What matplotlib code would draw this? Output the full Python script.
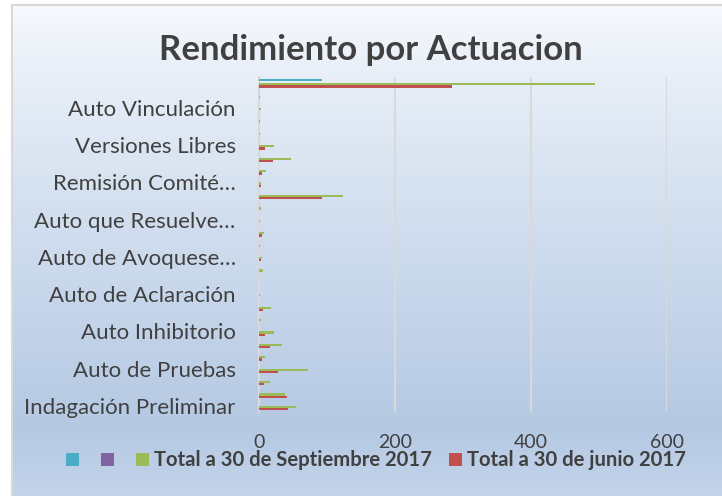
import numpy as np
import matplotlib
matplotlib.use("Agg")
import matplotlib.pyplot as plt
from matplotlib.colors import LinearSegmentedColormap
from matplotlib.patches import Patch

# ---------------- data ----------------
# 27 categories from bottom (0) to top (26); only every third one is labelled
category_index = list(range(27))
label_positions = [0, 3, 6, 9, 12, 15, 18, 21, 24]
category_labels = ["Indagación Preliminar", "Auto de Pruebas", "Auto Inhibitorio",
                   "Auto de Aclaración", "Auto de Avoquese…", "Auto que Resuelve…",
                   "Remisión Comité…", "Versiones Libres", "Auto Vinculación"]

series_labels = ["", "", "Total a 30 de Septiembre 2017", "Total a 30 de junio 2017"]

serie_azul = [0, 0, 0, 0, 0, 0, 0, 0, 0, 0, 0, 0, 0, 0, 0, 0, 0, 0, 0, 0, 0, 0, 0, 0, 0, 0, 92]
serie_morada = [0, 0, 0, 0, 0, 0, 0, 0, 0, 0, 0, 0, 0, 0, 0, 0, 0, 0, 0, 0, 0, 0, 0, 0, 0, 0, 0]
total_sep_2017 = [54, 38, 16, 72, 8, 34, 21, 2, 17, 1, 0, 5, 4, 1.5, 7, 1.5, 2, 124, 3, 10,
                  47, 22, 1, 1, 2.5, 1, 494]
total_jun_2017 = [42, 41, 7, 27, 3.5, 16, 9, 0, 5, 0, 0, 0, 2.5, 0, 3.5, 0, 0, 93, 3, 3.5,
                  20, 8, 0, 0, 0, 0, 284]

x_ticks = [0, 200, 400, 600]

# ---------------- style ----------------
plt.rcParams["font.family"] = ["Lato", "DejaVu Sans"]
colors = ["#4bacc6", "#8064a2", "#9bbb59", "#c0504d"]
text_color = "#404040"
grid_color = "#d9d9d9"

W, H = 722, 496
fig = plt.figure(figsize=(W / 100, H / 100), dpi=100)
fig.patch.set_facecolor("white")

# chart-area gradient background with border
bg = fig.add_axes([12 / W, 0, 1 - 12 / W, 1 - 5 / H], zorder=-5)
cmap = LinearSegmentedColormap.from_list(
    "bg", [(0.0, "#f6f9fd"), (0.15, "#e7eef7"), (0.5, "#cddbed"),
           (0.86, "#b5c9e3"), (1.0, "#c3d4ea")])
grad = np.linspace(0, 1, 256).reshape(-1, 1)
bg.imshow(grad, aspect="auto", cmap=cmap, extent=[0, 1, 1, 0])
bg.set_xlim(0, 1)
bg.set_ylim(1, 0)
bg.set_xticks([])
bg.set_yticks([])
for s in ["right", "bottom"]:
    bg.spines[s].set_visible(False)
for s in ["left", "top"]:
    bg.spines[s].set_color(grid_color)
    bg.spines[s].set_linewidth(1.5)

# plot area
x0, x1 = 259.3, 666.7
y0, y1 = 77, 412
ax = fig.add_axes([x0 / W, 1 - y1 / H, (x1 - x0) / W, (y1 - y0) / H])
ax.patch.set_alpha(0)

bar_h = 0.18
offsets = [0.27, 0.09, -0.09, -0.27]
all_series = [serie_azul, serie_morada, total_sep_2017, total_jun_2017]
pos = np.array(category_index, dtype=float)
for vals, off, col in zip(all_series, offsets, colors):
    ax.barh(pos + off, vals, height=bar_h, color=col, edgecolor="none", zorder=3)

ax.set_xlim(0, 600)
ax.set_ylim(-0.5, 26.5)
ax.set_xticks(x_ticks)
ax.set_yticks(label_positions, category_labels)
ax.grid(axis="x", color=grid_color, linewidth=1.5, zorder=0)
ax.grid(axis="y", visible=False)
ax.set_axisbelow(True)
for s in ["top", "right", "bottom"]:
    ax.spines[s].set_visible(False)
ax.spines["left"].set_color(grid_color)
ax.spines["left"].set_linewidth(1.5)
ax.tick_params(axis="y", length=0, pad=17, labelsize=16, labelcolor=text_color)
ax.tick_params(axis="x", length=0, pad=16, labelsize=14, labelcolor=text_color)

# title
fig.text(371 / W, 1 - 50 / H, "Rendimiento por Actuacion", ha="center", va="center",
         fontsize=25, fontweight="bold", color=text_color)

# legend
handles = [Patch(facecolor=c, edgecolor="none") for c in colors]
leg = fig.legend(handles, series_labels, loc="center left",
                 bbox_to_anchor=(66 / W, 1 - 460.5 / H), ncol=4, frameon=False,
                 borderpad=0, borderaxespad=0, handlelength=0.64, handleheight=0.64,
                 handletextpad=0.25, columnspacing=0.84,
                 prop={"size": 14.6, "weight": "bold"})
for t in leg.get_texts():
    t.set_color(text_color)

fig.savefig("out.png", dpi=100)
